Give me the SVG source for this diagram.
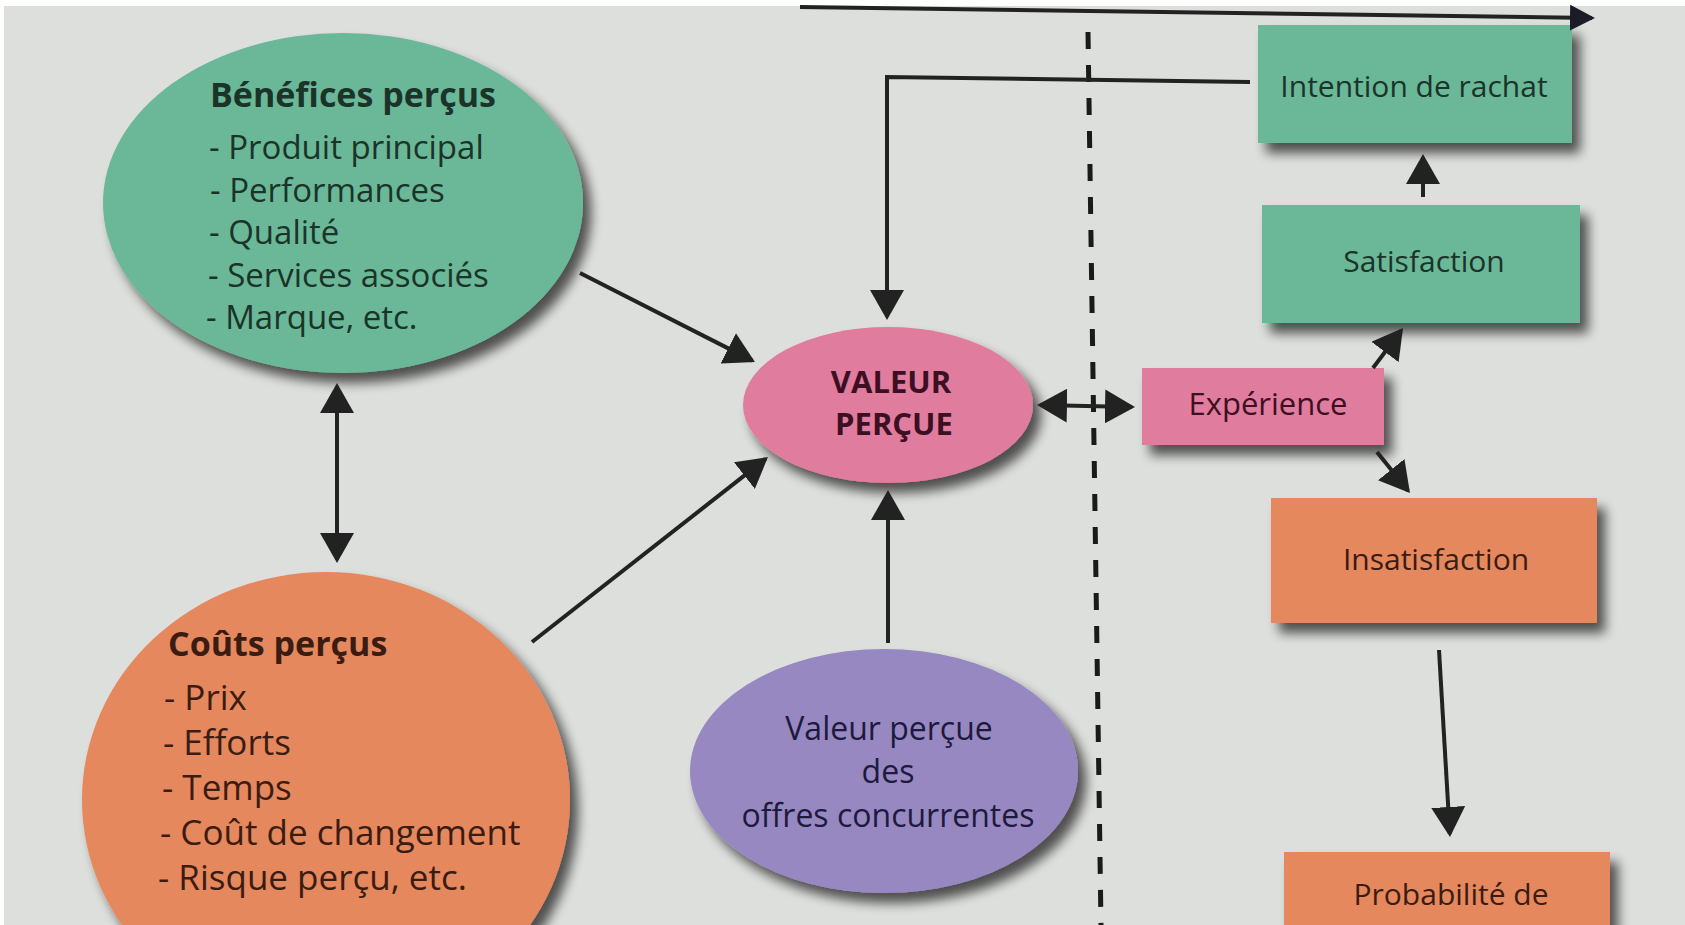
<svg xmlns="http://www.w3.org/2000/svg" width="1685" height="925" viewBox="0 0 1685 925">
  <style>
    text { font-family: "Open Sans", "Liberation Sans", sans-serif; }
    .t { font-size: 33px; }
    .tb { font-size: 34px; font-weight: bold; }
    .c { text-anchor: middle; }
    .green { fill: #6bb898; }
    .orange { fill: #e5885d; }
    .pink { fill: #e07c9e; }
    .purple { fill: #9788c2; }
    .tg { fill: #1b3328; }
    .to { fill: #3b1c12; }
    .tp { fill: #3d0f22; }
    .tv { fill: #1d1a3d; }
    .conn { stroke: #222; stroke-width: 4; fill: none; }
    .dash { stroke: #1a1a1a; stroke-width: 5; stroke-dasharray: 17 16; fill: none; }
  </style>
  <defs>
    <filter id="sh" x="-20%" y="-20%" width="150%" height="150%">
      <feGaussianBlur in="SourceAlpha" stdDeviation="6"/>
      <feOffset dx="8" dy="10" result="b"/>
      <feComponentTransfer><feFuncA type="linear" slope="0.65"/></feComponentTransfer>
      <feMerge><feMergeNode/><feMergeNode in="SourceGraphic"/></feMerge>
    </filter>
    <marker id="ah" markerUnits="userSpaceOnUse" viewBox="0 0 30 34" markerWidth="30" markerHeight="34" refX="27" refY="17" orient="auto-start-reverse">
      <path d="M0,0 L30,17 L0,34 z" fill="#222"/>
    </marker>
    <marker id="ahs" markerUnits="userSpaceOnUse" viewBox="0 0 25 26" markerWidth="25" markerHeight="26" refX="22" refY="13" orient="auto">
      <path d="M0,0 L25,13 L0,26 z" fill="#1c1c28"/>
    </marker>
  </defs>

  <rect x="0" y="0" width="1685" height="925" fill="#dddfdc"/>
  <rect x="0" y="0" width="1685" height="6" fill="#ffffff"/>
  <rect x="0" y="0" width="4" height="925" fill="#ffffff"/>

  <g id="divider">
    <path class="dash" d="M1088,32 L1101,925"/>
  </g>

  <g id="benefices">
    <ellipse class="green" cx="343" cy="203" rx="240" ry="170" filter="url(#sh)"/>
    <text class="tb tg" x="210" y="107">Bénéfices perçus</text>
    <text class="t tg" x="209" y="159">- Produit principal</text>
    <text class="t tg" x="210" y="201.5">- Performances</text>
    <text class="t tg" x="209" y="244">- Qualité</text>
    <text class="t tg" x="208" y="286.5">- Services associés</text>
    <text class="t tg" x="206" y="329">- Marque, etc.</text>
  </g>

  <g id="couts">
    <ellipse class="orange" cx="326" cy="800" rx="244" ry="228" filter="url(#sh)"/>
    <text class="tb to" x="168" y="656">Coûts perçus</text>
    <text class="t to" x="164" y="710" style="font-size:35px">- Prix</text>
    <text class="t to" x="163" y="755" style="font-size:35px">- Efforts</text>
    <text class="t to" x="162" y="800" style="font-size:35px">- Temps</text>
    <text class="t to" x="160" y="845" style="font-size:35px">- Coût de changement</text>
    <text class="t to" x="158" y="890" style="font-size:35px">- Risque perçu, etc.</text>
  </g>

  <g id="valeur">
    <ellipse class="pink" cx="888" cy="405" rx="145" ry="78" filter="url(#sh)"/>
    <text class="tb tp c" x="891" y="393" style="font-size:31px">VALEUR</text>
    <text class="tb tp c" x="894" y="435" style="font-size:31px">PERÇUE</text>
  </g>

  <g id="offres">
    <ellipse class="purple" cx="884" cy="771" rx="194" ry="122" filter="url(#sh)"/>
    <text class="t tv c" x="889" y="740" style="font-size:32px">Valeur perçue</text>
    <text class="t tv c" x="888" y="783" style="font-size:32px">des</text>
    <text class="t tv c" x="888" y="827" style="font-size:32px">offres concurrentes</text>
  </g>

  <g id="intention">
    <rect class="green" x="1258" y="25" width="314" height="118" filter="url(#sh)"/>
    <text class="t tg c" x="1414" y="97" style="font-size:30px">Intention de rachat</text>
  </g>

  <g id="satisfaction">
    <rect class="green" x="1262" y="205" width="318" height="118" filter="url(#sh)"/>
    <text class="t tg c" x="1424" y="272" style="font-size:30px">Satisfaction</text>
  </g>

  <g id="experience">
    <rect class="pink" x="1142" y="368" width="242" height="77" filter="url(#sh)"/>
    <text class="t tp c" x="1268" y="415" style="font-size:31px">Expérience</text>
  </g>

  <g id="insatisfaction">
    <rect class="orange" x="1271" y="498" width="326" height="125" filter="url(#sh)"/>
    <text class="t to c" x="1436" y="570" style="font-size:30px">Insatisfaction</text>
  </g>

  <g id="probabilite">
    <rect class="orange" x="1284" y="852" width="326" height="90" filter="url(#sh)"/>
    <text class="t to c" x="1451" y="905" style="font-size:30px">Probabilité de</text>
  </g>

  <g id="connectors">
    <path class="conn" d="M800,7 L1592,18" stroke-width="3.5" marker-end="url(#ahs)"/>
    <path class="conn" d="M1250,82 L887,77 L887,317" marker-end="url(#ah)"/>
    <path class="conn" d="M580,273 L752.3,360.6" marker-end="url(#ah)"/>
    <path class="conn" d="M532,642 L765.6,458.9" marker-end="url(#ah)"/>
    <path class="conn" d="M888,643 L888,493" marker-end="url(#ah)"/>
    <path class="conn" d="M337,386 L337,560" marker-start="url(#ah)" marker-end="url(#ah)"/>
    <path class="conn" d="M1040,405 L1132,407" marker-start="url(#ah)" marker-end="url(#ah)"/>
    <path class="conn" d="M1373,368 L1401.2,330.4" marker-end="url(#ah)"/>
    <path class="conn" d="M1377,452 L1408.1,490.7" marker-end="url(#ah)"/>
    <path class="conn" d="M1423,197 L1423,157" marker-end="url(#ah)"/>
    <path class="conn" d="M1439,650 L1449.8,834" marker-end="url(#ah)"/>
  </g>
</svg>
